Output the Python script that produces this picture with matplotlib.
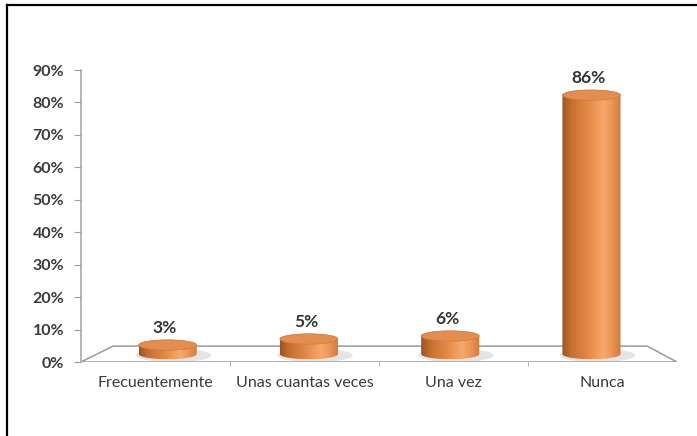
import matplotlib
matplotlib.use("Agg")
import matplotlib.pyplot as plt
import numpy as np
from matplotlib.patches import Polygon, Ellipse, PathPatch
from matplotlib.path import Path
from matplotlib.lines import Line2D
from matplotlib.colors import to_rgb

plt.rcParams['font.family'] = ['Lato', 'DejaVu Sans']

# data
categories = ['Frecuentemente', 'Unas cuantas veces', 'Una vez', 'Nunca']
values = [3, 5, 6, 86]
labels = ['3%', '5%', '6%', '86%']
yticks = [0, 10, 20, 30, 40, 50, 60, 70, 80, 90]

# 3d-ish floor geometry (data units)
n = len(categories)
back_left, back_right = 0.215, 3.8
floor_depth = 4.9
base = floor_depth / 2
persp = 0.928          # height shrink at mid depth
bar_w = 0.39
ry = 1.6               # ellipse half height

fig = plt.figure(figsize=(6.97, 4.36), dpi=100)
ax = fig.add_axes([81 / 697, 74 / 436, 596 / 697, 292 / 436])
ax.set_xlim(0, n)
ax.set_ylim(0, 90)

# frame around the picture (top and left only)
fig.add_artist(Line2D([7 / 697, 1], [1 - 5 / 436, 1 - 5 / 436], color='black', lw=1.6, transform=fig.transFigure))
fig.add_artist(Line2D([7 / 697, 7 / 697], [0, 1 - 5 / 436], color='black', lw=1.6, transform=fig.transFigure))

# floor
floor = Polygon([[0, 0], [n, 0], [back_right, floor_depth], [back_left, floor_depth]],
                closed=True, facecolor='white', edgecolor='#9a9a9a', lw=1.1, zorder=1)
ax.add_patch(floor)

# gradient for cylinders
stops = np.array([0.0, 0.15, 0.45, 0.7, 0.85, 1.0])
cols = [to_rgb(c) for c in ['#9c5422', '#c46f30', '#e58a48', '#f6a86a', '#eb9555', '#cd7a3e']]
g = np.linspace(0, 1, 200)
grad = np.stack([np.interp(g, stops, [c[i] for c in cols]) for i in range(3)], axis=-1)[None, :, :]

front = np.arange(n) + 0.5
for xf, v, lab in zip(front, values, labels):
    xb = back_left + xf * (back_right - back_left) / n
    xc = (xf + xb) / 2
    top = base + v * persp
    x0, x1 = xc - bar_w / 2, xc + bar_w / 2

    # shadow
    ax.add_patch(Ellipse((xc + 0.04, base - 0.4), bar_w * 1.3, ry * 2.6,
                         facecolor='#a8a8a8', edgecolor='none', alpha=0.3, zorder=2))

    # body outline
    t1 = np.linspace(np.pi, 2 * np.pi, 40)
    t2 = np.linspace(0, np.pi, 40)
    bot = np.column_stack([xc + bar_w / 2 * np.cos(t1), base + ry * np.sin(t1)])
    upp = np.column_stack([xc + bar_w / 2 * np.cos(t2), top + ry * np.sin(t2)])
    verts = np.vstack([bot, upp, bot[:1]])
    body = PathPatch(Path(verts, closed=True), facecolor='none', edgecolor='none', zorder=3)
    ax.add_patch(body)
    im = ax.imshow(grad, extent=(x0, x1, base - ry, top + ry), aspect='auto',
                   origin='lower', zorder=3, interpolation='bilinear')
    im.set_clip_path(body)

    # top cap
    ax.add_patch(Ellipse((xc, top), bar_w, ry * 2, facecolor='#e38e50',
                         edgecolor='#cc7c42', lw=0.5, zorder=4))

    ax.annotate(lab, (xc, top + ry), xytext=(-2, 3), textcoords='offset points',
                ha='center', va='bottom', fontsize=12.5, fontweight='bold', color='#333333', zorder=5)

ax.set_xlim(0, n)
ax.set_ylim(0, 90)

# axes styling
for s in ['top', 'right', 'bottom']:
    ax.spines[s].set_visible(False)
ax.spines['left'].set_color('#a0a0a0')
ax.spines['left'].set_linewidth(1.1)

ax.set_yticks(yticks)
ax.set_yticklabels([f'{t}%' for t in yticks])
ax.tick_params(axis='y', direction='out', length=5, color='#a0a0a0', pad=7,
               labelsize=11.5, labelcolor='#3a3a3a')
for t in ax.get_yticklabels():
    t.set_fontweight('bold')

ax.set_xticks(front)
ax.set_xticklabels(categories)
ax.set_xticks(np.arange(1, n), minor=True)
ax.tick_params(axis='x', which='major', length=0, pad=10, labelsize=11.5, labelcolor='#3a3a3a')
ax.tick_params(axis='x', which='minor', direction='out', length=3, color='#a0a0a0')

fig.savefig('out.png', dpi=100)
